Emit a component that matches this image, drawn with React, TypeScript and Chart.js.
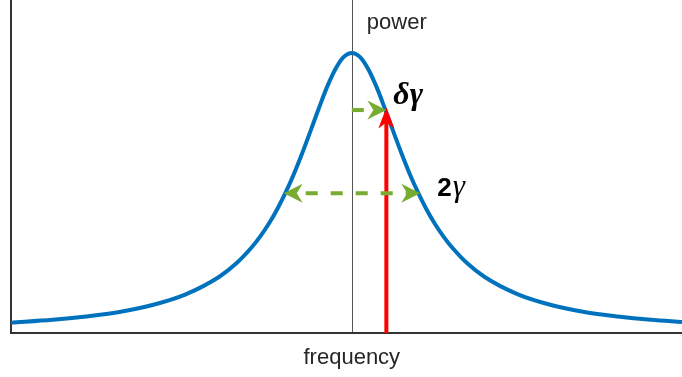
import React, { useEffect, useRef } from "react";
import { Chart, registerables } from "chart.js";

Chart.register(...registerables);

// Lorentzian line profile (frequency in units of the half width γ)
const frequency = [
  -5.13, -4.5, -4, -3.5, -3, -2.5, -2, -1.75, -1.5, -1.375, -1.25, -1.125, -1, -0.875, -0.75,
  -0.625, -0.5, -0.375, -0.25, -0.125, 0, 0.125, 0.25, 0.375, 0.5, 0.625, 0.75, 0.875, 1,
  1.125, 1.25, 1.375, 1.5, 1.75, 2, 2.5, 3, 3.5, 4, 4.5, 4.97,
];
const power = [
  0.037, 0.047, 0.059, 0.075, 0.1, 0.138, 0.2, 0.246, 0.308, 0.346, 0.39, 0.441, 0.5, 0.566, 0.64,
  0.719, 0.8, 0.877, 0.941, 0.985, 1.0, 0.985, 0.941, 0.877, 0.8, 0.719, 0.64, 0.566, 0.5,
  0.441, 0.39, 0.346, 0.308, 0.246, 0.2, 0.138, 0.1, 0.075, 0.059, 0.047, 0.039,
];

// annotation arrows (data units)
const shiftArrowX = [0, 0.52]; // δγ arrow
const shiftArrowY = 0.796;
const widthArrowX = [-1.025, 1.03]; // 2γ arrow
const widthArrowY = 0.499;
const probeX = 0.52; // red arrow
const probeY = [0, 0.805];

const xRange = [-5.13, 4.97];
const yRange = [0, 1.189];

const axisLabels = { x: "frequency", y: "power" };
const shiftLabel = "δγ";
const widthLabelNum = "2";
const widthLabelSym = "γ";

function drawHead(
  ctx: CanvasRenderingContext2D,
  tx: number,
  ty: number,
  dx: number,
  dy: number,
  L: number,
  W: number,
  N: number,
  color: string
) {
  const nx = -dy;
  const ny = dx;
  ctx.save();
  ctx.fillStyle = color;
  ctx.beginPath();
  ctx.moveTo(tx, ty);
  ctx.lineTo(tx - L * dx + W * nx, ty - L * dy + W * ny);
  ctx.lineTo(tx - (L - N) * dx, ty - (L - N) * dy);
  ctx.lineTo(tx - L * dx - W * nx, ty - L * dy - W * ny);
  ctx.closePath();
  ctx.fill();
  ctx.restore();
}

const annotations = {
  id: "annotations",
  beforeDatasetsDraw(chart: any) {
    const { ctx, chartArea, scales } = chart;
    const x = scales.x;
    ctx.save();
    // center reference line
    ctx.strokeStyle = "#555555";
    ctx.lineWidth = 1;
    const cx = Math.round(x.getPixelForValue(0)) + 0.5;
    ctx.beginPath();
    ctx.moveTo(cx, 0);
    ctx.lineTo(cx, chartArea.bottom);
    ctx.stroke();
    // axes
    ctx.strokeStyle = "#333333";
    ctx.lineWidth = 2;
    ctx.beginPath();
    ctx.moveTo(chartArea.left, 0);
    ctx.lineTo(chartArea.left, chartArea.bottom);
    ctx.lineTo(chartArea.right, chartArea.bottom);
    ctx.stroke();
    ctx.restore();
  },
  afterDatasetsDraw(chart: any) {
    const { ctx, chartArea, scales } = chart;
    const x = scales.x;
    const y = scales.y;
    const green = "#77AC30";
    const red = "#FF0000";
    const L = 19;
    const W = 9.5;
    const N = 6;
    ctx.save();

    // red arrow
    const rx = x.getPixelForValue(probeX);
    const ry0 = y.getPixelForValue(probeY[0]);
    const ry1 = y.getPixelForValue(probeY[1]);
    ctx.strokeStyle = red;
    ctx.lineWidth = 4;
    ctx.beginPath();
    ctx.moveTo(rx, ry0);
    ctx.lineTo(rx, ry1 + 20 - 6);
    ctx.stroke();
    drawHead(ctx, rx, ry1, 0, -1, 21, 8, 6, red);

    // green δγ arrow
    const gy = y.getPixelForValue(shiftArrowY);
    const gx0 = x.getPixelForValue(shiftArrowX[0]);
    const gx1 = x.getPixelForValue(shiftArrowX[1]);
    ctx.strokeStyle = green;
    ctx.lineWidth = 4;
    ctx.setLineDash([12, 13]);
    ctx.beginPath();
    ctx.moveTo(gx0, gy);
    ctx.lineTo(gx1 - L + N, gy);
    ctx.stroke();
    drawHead(ctx, gx1, gy, 1, 0, L, W, N, green);

    // green 2γ arrow
    const hy = y.getPixelForValue(widthArrowY);
    const hx0 = x.getPixelForValue(widthArrowX[0]);
    const hx1 = x.getPixelForValue(widthArrowX[1]);
    ctx.beginPath();
    ctx.lineDashOffset = -9;
    ctx.moveTo(hx0 + L - N, hy);
    ctx.lineTo(hx1 - L + N, hy);
    ctx.stroke();
    ctx.setLineDash([]);
    drawHead(ctx, hx0, hy, -1, 0, L, W, N, green);
    drawHead(ctx, hx1, hy, 1, 0, L, W, N, green);

    // text
    ctx.fillStyle = "#262626";
    ctx.font = '22px "Liberation Sans", Arial, sans-serif';
    ctx.textBaseline = "alphabetic";
    ctx.textAlign = "left";
    ctx.fillText(axisLabels.y, x.getPixelForValue(0) + 15, 29);
    ctx.textAlign = "center";
    ctx.fillText(axisLabels.x, x.getPixelForValue(0), chartArea.bottom + 31);

    ctx.fillStyle = "#000000";
    ctx.textAlign = "left";
    ctx.font = 'italic bold 32px "Liberation Serif", "Times New Roman", serif';
    ctx.fillText(shiftLabel, gx1 + 7, gy - 6);
    ctx.font = 'bold 26px "Liberation Sans", Arial, sans-serif';
    const wx = hx1 + 17;
    ctx.fillText(widthLabelNum, wx, hy + 3);
    const nw = ctx.measureText(widthLabelNum).width;
    ctx.font = 'italic 31px "Liberation Serif", "Times New Roman", serif';
    ctx.fillText(widthLabelSym, wx + nw + 1, hy + 3);
    ctx.restore();
  },
};

export default function App() {
  const ref = useRef<HTMLCanvasElement | null>(null);
  useEffect(() => {
    if (!ref.current) return;
    const chart = new Chart(ref.current, {
      type: "line",
      data: {
        datasets: [
          {
            data: frequency.map((f, i) => ({ x: f, y: power[i] })),
            borderColor: "#0072BD",
            borderWidth: 4,
            pointRadius: 0,
            cubicInterpolationMode: "monotone",
            fill: false,
            clip: false as any,
          },
        ],
      },
      options: {
        responsive: false,
        animation: false,
        events: [],
        layout: { padding: { left: 11, right: 0, top: 0, bottom: 44 } },
        plugins: { legend: { display: false }, tooltip: { enabled: false } },
        scales: {
          x: { type: "linear", min: xRange[0], max: xRange[1], display: false },
          y: { type: "linear", min: yRange[0], max: yRange[1], display: false },
        },
      },
      plugins: [annotations],
    });
    return () => chart.destroy();
  }, []);
  return (
    <div style={{ position: "fixed", left: 0, top: 0, width: 682, height: 377, background: "#fff" }}>
      <canvas ref={ref} width={682} height={377} />
    </div>
  );
}
